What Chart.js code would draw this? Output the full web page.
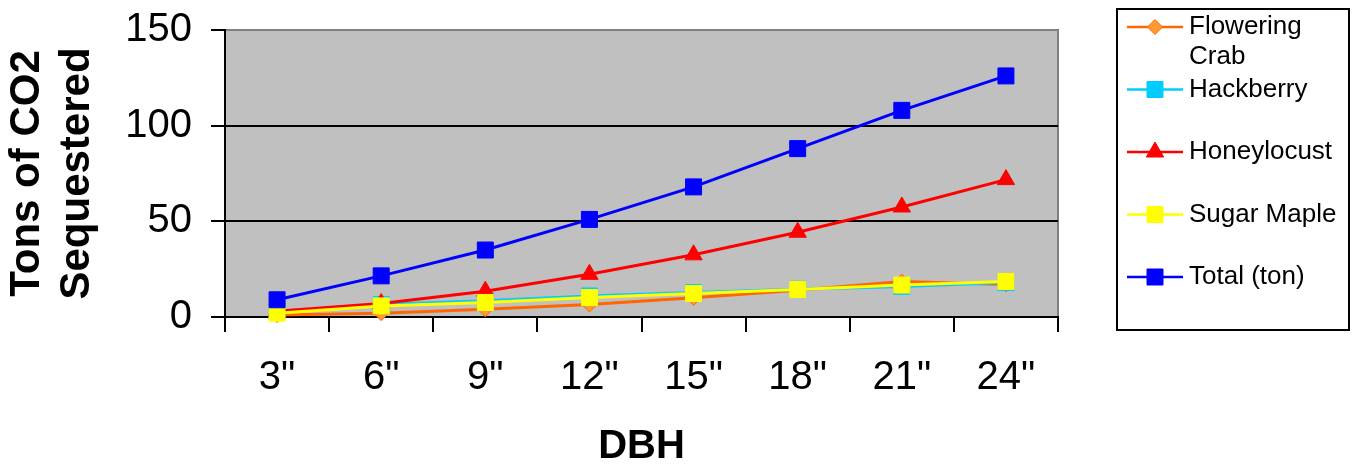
<!DOCTYPE html>
<html>
<head>
<meta charset="utf-8">
<script src="https://cdn.jsdelivr.net/npm/chart.js@4.4.1/dist/chart.umd.min.js"></script>
<style>
  html, body { margin: 0; padding: 0; background: #fff; }
</style>
</head>
<body>
<canvas id="co2Chart" width="1357" height="464"></canvas>
<script>
const dbhLabels = ['3"', '6"', '9"', '12"', '15"', '18"', '21"', '24"'];
const seriesNames = ['Flowering Crab', 'Hackberry', 'Honeylocust', 'Sugar Maple', 'Total (ton)'];

// tons of CO2 per DBH class
const floweringCrab = [1, 2, 4, 6.5, 10, 14, 18.5, 17];
const hackberry = [3, 6.5, 8.5, 11, 12.8, 14.5, 16, 18];
const honeylocust = [3, 7, 13.5, 22.3, 32.5, 44.3, 57.5, 71.8];
const sugarMaple = [2, 5.8, 7.6, 10.2, 12.3, 14.4, 16.7, 18.6];
const total = [9, 21.5, 35, 51, 68, 88, 108, 126];

const yTicks = [0, 50, 100, 150];

Chart.defaults.font.family = '"Liberation Sans", Arial, sans-serif';
Chart.defaults.color = '#000';

function makeSeries(i, data, color, fill, style, radius) {
  return {
    label: seriesNames[i],
    data: data,
    borderColor: color,
    backgroundColor: color,
    borderWidth: 3,
    pointStyle: style,
    pointRadius: radius,
    pointBackgroundColor: fill,
    pointBorderColor: color,
    pointBorderWidth: 1,
    tension: 0,
    clip: false,
    order: 4 - i // later series on top, like the original
  };
}

// grey plot area with the darker top/right frame
const plotFrame = {
  id: 'plotFrame',
  beforeDraw(chart) {
    const { ctx, chartArea: a } = chart;
    ctx.save();
    ctx.fillStyle = '#C0C0C0';
    ctx.fillRect(a.left, a.top, a.right - a.left, a.bottom - a.top);
    ctx.strokeStyle = '#808080';
    ctx.lineWidth = 2;
    ctx.beginPath();
    ctx.moveTo(a.left, a.top);
    ctx.lineTo(a.right, a.top);
    ctx.lineTo(a.right, a.bottom);
    ctx.stroke();
    ctx.restore();
  }
};

function wrapText(ctx, text, maxWidth) {
  const words = text.split(' ');
  const lines = [];
  let line = '';
  words.forEach(w => {
    const test = line ? line + ' ' + w : w;
    if (line && ctx.measureText(test).width > maxWidth) {
      lines.push(line);
      line = w;
    } else {
      line = test;
    }
  });
  lines.push(line);
  return lines;
}

// boxed legend on the right, as in the spreadsheet chart
const boxLegend = {
  id: 'boxLegend',
  afterDraw(chart) {
    const ctx = chart.ctx;
    const box = { left: 1117, top: 9, right: 1349, bottom: 330 };
    ctx.save();
    ctx.strokeStyle = '#000';
    ctx.lineWidth = 2;
    ctx.strokeRect(box.left, box.top, box.right - box.left, box.bottom - box.top);
    ctx.font = '26px "Liberation Sans", Arial, sans-serif';
    ctx.textBaseline = 'middle';
    ctx.textAlign = 'left';
    chart.data.datasets.forEach((ds, i) => {
      const y = 27 + i * 62.5;
      ctx.strokeStyle = ds.borderColor;
      ctx.lineWidth = 2.5;
      ctx.beginPath();
      ctx.moveTo(1127, y);
      ctx.lineTo(1183, y);
      ctx.stroke();
      ctx.fillStyle = ds.pointBackgroundColor;
      ctx.strokeStyle = ds.pointBorderColor;
      ctx.lineWidth = 1;
      Chart.helpers.drawPoint(ctx, {
        pointStyle: ds.pointStyle,
        radius: ds.pointRadius,
        rotation: 0,
        borderWidth: 1
      }, 1155, y);
      ctx.fillStyle = '#000';
      wrapText(ctx, ds.label, 152).forEach((line, j) => {
        ctx.fillText(line, 1189, y + j * 30);
      });
    });
    ctx.restore();
  }
};

const co2Chart = new Chart(document.getElementById('co2Chart'), {
  type: 'line',
  data: {
    labels: dbhLabels,
    datasets: [
      makeSeries(0, floweringCrab, '#FF6600', '#FF9933', 'rectRot', 7.5),
      makeSeries(1, hackberry, '#00CCFF', '#00CCFF', 'rect', 11.3),
      makeSeries(2, honeylocust, '#FF0000', '#FF0000', 'triangle', 10),
      makeSeries(3, sugarMaple, '#FFFF00', '#FFFF00', 'rect', 11.3),
      makeSeries(4, total, '#0000FF', '#0000FF', 'rect', 11.3)
    ]
  },
  options: {
    responsive: false,
    animation: false,
    layout: {
      padding: { left: 0, top: 30, right: 299, bottom: 0 }
    },
    plugins: {
      legend: { display: false },
      tooltip: { enabled: false }
    },
    scales: {
      x: {
        offset: true,
        grid: {
          offset: true,
          drawOnChartArea: false,
          tickLength: 15,
          tickColor: '#000',
          lineWidth: 2
        },
        border: { color: '#000', width: 2 },
        ticks: {
          font: { size: 40 },
          color: '#000',
          padding: 22,
          maxRotation: 0,
          autoSkip: false
        },
        title: {
          display: true,
          text: 'DBH',
          font: { size: 40, weight: 'bold', lineHeight: 0.6 },
          padding: { top: 0, bottom: 5 },
          color: '#000'
        },
        afterFit(scale) {
          scale.height = 147;
          scale.paddingLeft = 0;
          scale.paddingRight = 0;
        }
      },
      y: {
        min: 0,
        max: 150,
        afterBuildTicks(scale) {
          scale.ticks = yTicks.map(v => ({ value: v }));
        },
        grid: {
          color: ctx => (ctx.tick && (ctx.tick.value === 50 || ctx.tick.value === 100)) ? '#000' : 'rgba(0,0,0,0)',
          tickColor: '#000',
          tickLength: 14,
          lineWidth: 2
        },
        border: { color: '#000', width: 2 },
        ticks: {
          font: { size: 40 },
          color: '#000',
          padding: 19
        },
        title: {
          display: true,
          text: ['Tons of CO2', 'Sequestered'],
          font: { size: 42, weight: 'bold', lineHeight: 50 / 42 },
          padding: { top: 2, bottom: 0 },
          color: '#000'
        },
        afterFit(scale) {
          scale.width = 225;
          scale.paddingTop = 0;
          scale.paddingBottom = 0;
        }
      }
    }
  },
  plugins: [plotFrame, boxLegend]
});
</script>
</body>
</html>
